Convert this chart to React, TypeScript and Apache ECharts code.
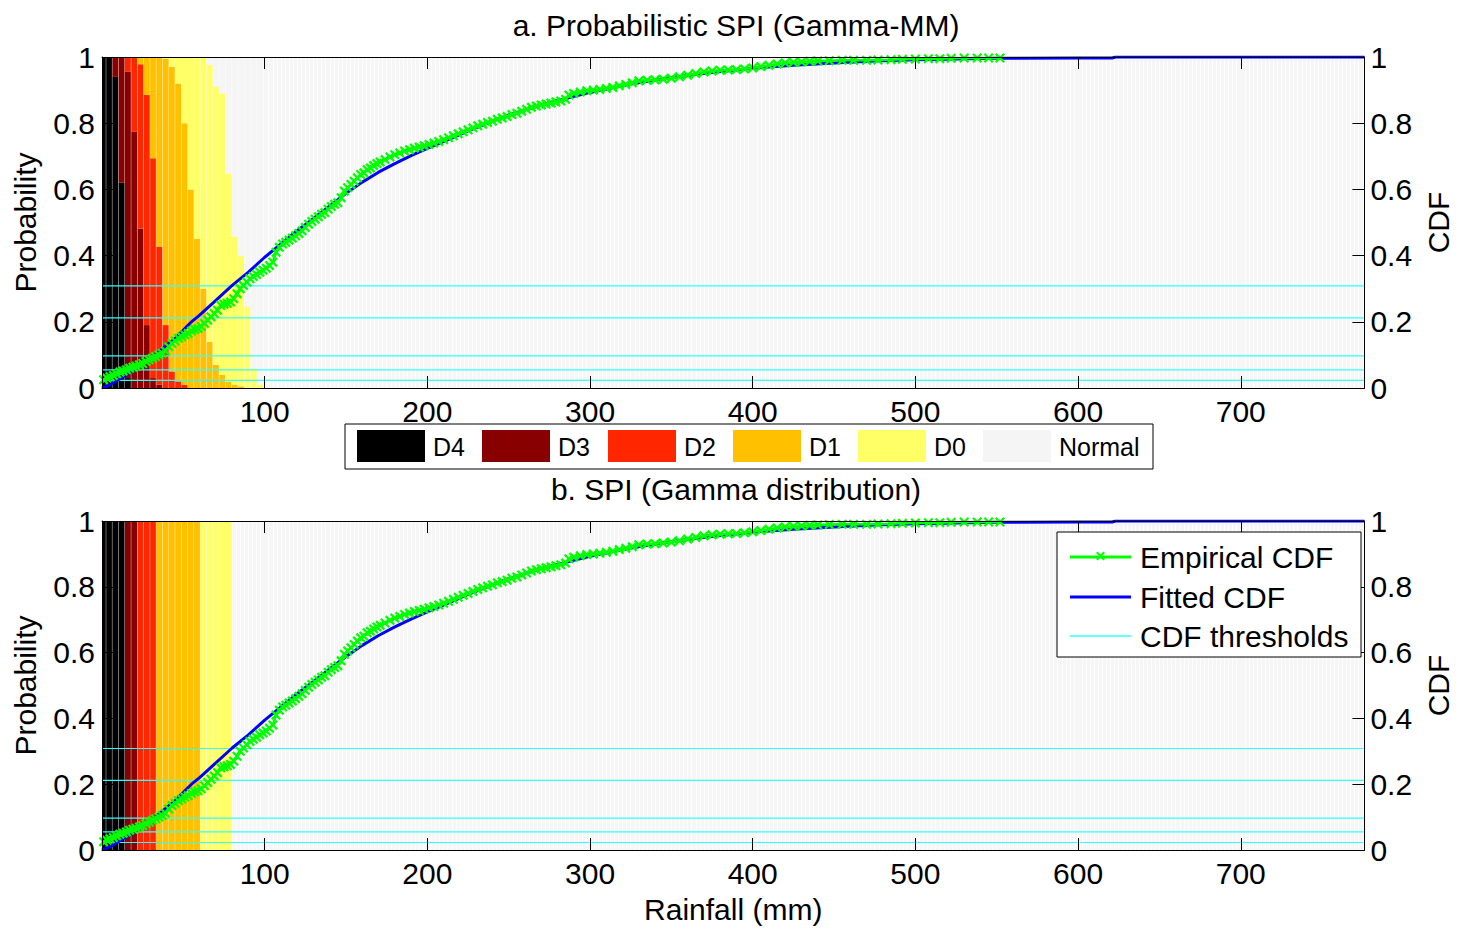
import React, { useEffect, useRef } from "react";
import * as echarts from "echarts";

const FONT = '"Liberation Sans", Arial, Helvetica, sans-serif';

// Drought classes (legend) and their colours
const classNames = ["D4", "D3", "D2", "D1", "D0", "Normal"];
const classColors = ["#000000", "#880000", "#ff2600", "#ffc000", "#ffff66", "#f5f5f5"];

// Rainfall bins (mm) used for the class bars
const binLeft = [0, 2.6, 6.4, 10.2, 14.1, 18.0, 21.9, 25.7, 29.6, 33.4, 37.3, 41.2, 45.0, 48.9, 52.8, 56.6, 60.5, 64.4, 68.2, 72.1, 76.0, 79.8, 83.7, 87.6, 91.4, 95.3];
const binRight = [2.6, 6.4, 10.2, 14.1, 18.0, 21.9, 25.7, 29.6, 33.4, 37.3, 41.2, 45.0, 48.9, 52.8, 56.6, 60.5, 64.4, 68.2, 72.1, 76.0, 79.8, 83.7, 87.6, 91.4, 95.3, 99.2];

// Panel a: class probabilities per bin (probabilistic SPI)
const probD4 = [1, 1, 0.94, 0.62, 0.03, 0, 0, 0, 0, 0, 0, 0, 0, 0, 0, 0, 0, 0, 0, 0, 0, 0, 0, 0, 0, 0];
const probD3 = [0, 0, 0.06, 0.38, 0.925, 0.774, 0.482, 0.19, 0.03, 0.01, 0, 0, 0, 0, 0, 0, 0, 0, 0, 0, 0, 0, 0, 0, 0, 0];
const probD2 = [0, 0, 0, 0, 0.045, 0.226, 0.496, 0.695, 0.664, 0.417, 0.19, 0.05, 0.02, 0.01, 0, 0, 0, 0, 0, 0, 0, 0, 0, 0, 0, 0];
const probD1 = [0, 0, 0, 0, 0, 0, 0.022, 0.115, 0.306, 0.573, 0.805, 0.92, 0.9, 0.79, 0.6, 0.45, 0.3, 0.14, 0.07, 0.04, 0.02, 0.01, 0.005, 0, 0, 0];
const probD0 = [0, 0, 0, 0, 0, 0, 0, 0, 0, 0, 0.005, 0.03, 0.08, 0.2, 0.4, 0.55, 0.7, 0.836, 0.84, 0.85, 0.628, 0.448, 0.395, 0.246, 0.06, 0.01];

// Panel b: deterministic SPI class per bin
const spiClass = ["D4", "D4", "D4", "D4", "D3", "D3", "D2", "D2", "D2", "D1", "D1", "D1", "D1", "D1", "D1", "D1", "D0", "D0", "D0", "D0", "D0"];

// CDF thresholds (USDM SPI -0.5, -0.8, -1.3, -1.6, -2.0)
const cdfThresholds = [0.3085, 0.2119, 0.0968, 0.0548, 0.0228];

// Fitted CDF
const fittedRain = [0, 5, 10, 15, 20, 25, 30, 35, 40, 45, 50, 55, 60, 70, 80, 90, 100, 110, 120, 130, 140, 150, 160, 170, 180, 190, 200, 215, 225, 250, 275, 300, 325, 350, 375, 400, 425, 450, 475, 500, 550, 600, 621, 623, 776];
const fittedCdf = [0, 0.01, 0.025, 0.04, 0.055, 0.072, 0.09, 0.11, 0.13, 0.15, 0.175, 0.2, 0.22, 0.265, 0.31, 0.35, 0.395, 0.435, 0.475, 0.512, 0.55, 0.588, 0.622, 0.652, 0.678, 0.702, 0.724, 0.755, 0.777, 0.825, 0.862, 0.893, 0.918, 0.938, 0.953, 0.966, 0.975, 0.982, 0.988, 0.992, 0.996, 0.997, 0.997, 1.0, 1.0];

// Empirical CDF
const empiricalRain = [1, 3, 5, 7, 9, 11, 13, 15, 17, 19, 21, 23, 25, 27, 29, 31, 33, 35, 37, 39, 41, 43, 45, 47, 49, 51, 53, 55, 57, 59, 61, 63, 65, 67, 69, 71, 73, 75, 77, 79, 81, 83, 85, 87, 89, 91, 93, 95, 97, 99, 101, 103, 105, 107, 109, 111, 113, 115, 117, 119, 121, 123, 125, 127, 129, 131, 133, 135, 137, 139, 141, 143, 145, 147, 149, 151, 153, 155, 157, 159, 161, 163, 165, 167, 169, 171, 174, 177, 180, 183, 186, 189, 192, 195, 198, 201, 204, 207, 210, 213, 216, 219, 222, 225, 228, 231, 234, 237, 240, 243, 246, 249, 252, 255, 258, 261, 264, 267, 270, 273, 276, 279, 282, 285, 287, 290, 294, 298, 302, 306, 310, 314, 318, 322, 326, 330, 335, 340, 345, 350, 355, 360, 365, 370, 375, 380, 385, 390, 395, 400, 405, 410, 415, 420, 425, 430, 435, 440, 447, 455, 462, 470, 477, 485, 492, 500, 508, 515, 522, 530, 538, 545, 552];
const empiricalCdf = [0.025, 0.03, 0.034, 0.038, 0.043, 0.048, 0.051, 0.055, 0.06, 0.063, 0.066, 0.07, 0.074, 0.08, 0.085, 0.09, 0.095, 0.1, 0.105, 0.112, 0.125, 0.135, 0.142, 0.15, 0.155, 0.16, 0.165, 0.172, 0.177, 0.18, 0.186, 0.195, 0.205, 0.215, 0.225, 0.235, 0.25, 0.253, 0.256, 0.26, 0.27, 0.285, 0.3, 0.31, 0.32, 0.33, 0.337, 0.343, 0.35, 0.356, 0.362, 0.37, 0.38, 0.41, 0.425, 0.435, 0.44, 0.447, 0.453, 0.46, 0.467, 0.475, 0.485, 0.495, 0.503, 0.51, 0.517, 0.525, 0.53, 0.54, 0.548, 0.555, 0.56, 0.575, 0.595, 0.605, 0.615, 0.625, 0.635, 0.645, 0.65, 0.66, 0.665, 0.672, 0.678, 0.683, 0.69, 0.698, 0.705, 0.71, 0.716, 0.72, 0.725, 0.728, 0.732, 0.736, 0.74, 0.745, 0.75, 0.756, 0.762, 0.768, 0.774, 0.78, 0.786, 0.792, 0.797, 0.802, 0.806, 0.812, 0.816, 0.82, 0.826, 0.83, 0.836, 0.842, 0.848, 0.852, 0.855, 0.858, 0.861, 0.864, 0.867, 0.872, 0.885, 0.89, 0.894, 0.898, 0.9, 0.902, 0.905, 0.908, 0.913, 0.917, 0.922, 0.928, 0.93, 0.931, 0.933, 0.936, 0.94, 0.945, 0.95, 0.955, 0.958, 0.96, 0.961, 0.962, 0.964, 0.967, 0.971, 0.975, 0.979, 0.982, 0.984, 0.985, 0.987, 0.988, 0.989, 0.99, 0.99, 0.99, 0.991, 0.992, 0.993, 0.994, 0.995, 0.995, 0.996, 0.997, 0.997, 0.997, 0.997];

const X_MAX = 776;
const GRIDS = [
  { left: 102, top: 57, width: 1268, height: 331 },
  { left: 102, top: 521, width: 1268, height: 329 },
];

const xMarker = "path://M0,1.6L1.6,0L5,3.4L8.4,0L10,1.6L6.6,5L10,8.4L8.4,10L5,6.6L1.6,10L0,8.4L3.4,5Z";

function sepLine(api: any, r: number) {
  const t = api.coord([r, 1]);
  const b = api.coord([r, 0]);
  return {
    type: "line",
    shape: { x1: t[0], y1: t[1], x2: b[0], y2: b[1] },
    style: { stroke: "rgba(255,255,255,0.7)", lineWidth: 1 },
  };
}

export default function App() {
  const ref = useRef<HTMLDivElement>(null);
  useEffect(() => {
    document.body.style.margin = "0";
    if (!ref.current) return;
    const chart = echarts.init(ref.current, undefined, { renderer: "svg" });

    const topBins = binLeft.map((l, i) => {
      const ps = [probD4[i], probD3[i], probD2[i], probD1[i], probD0[i]];
      const s = ps.reduce((a, b) => a + b, 0);
      return [l, binRight[i], ...ps, Math.max(0, 1 - s)];
    });
    const bottomBins = spiClass.map((c, i) => [binLeft[i], binRight[i], classNames.indexOf(c)]);

    const txt = { color: "#000", fontSize: 30, fontFamily: FONT };
    const axLine = { show: true, onZero: false, lineStyle: { color: "#000", width: 1 } };
    const axTick = { show: true, inside: true, length: 12, lineStyle: { color: "#000" } };

    const xAxes: any[] = [];
    const yAxes: any[] = [];
    GRIDS.forEach((g, gi) => {
      xAxes.push({
        gridIndex: gi, type: "value", min: 0, max: X_MAX, interval: 100, position: "bottom", z: 10,
        name: gi === 1 ? "Rainfall (mm)" : "", nameLocation: "middle", nameGap: 44, nameTextStyle: txt,
        axisLine: axLine, axisTick: axTick,
        axisLabel: { show: true, showMinLabel: false, showMaxLabel: false, margin: 8, ...txt },
        splitLine: { show: false },
      });
      xAxes.push({
        gridIndex: gi, type: "value", min: 0, max: X_MAX, interval: 100, position: "top", z: 10,
        axisLine: axLine, axisTick: axTick,
        axisLabel: { show: false },
        splitLine: { show: false },
      });
      // background stripes of the "Normal" area (drawn below the bars)
      xAxes.push({
        gridIndex: gi, type: "value", min: 0, max: X_MAX, interval: 100, position: "bottom", z: 0,
        axisLine: { show: false }, axisTick: { show: false }, axisLabel: { show: false },
        splitLine: { show: false },
        minorTick: { show: false, splitNumber: 40 },
        minorSplitLine: { show: true, lineStyle: { color: "#fdfdfd", width: 1 } },
      });
      yAxes.push({
        gridIndex: gi, type: "value", min: 0, max: 1, interval: 0.2, position: "left", z: 10,
        name: "Probability", nameLocation: "middle", nameGap: 62, nameRotate: 90, nameTextStyle: txt,
        axisLine: axLine, axisTick: axTick,
        axisLabel: { margin: 7, ...txt },
        splitLine: { show: false },
      });
      yAxes.push({
        gridIndex: gi, type: "value", min: 0, max: 1, interval: 0.2, position: "right", z: 10,
        name: "CDF", nameLocation: "middle", nameGap: 55, nameRotate: 90, nameTextStyle: txt,
        axisLine: axLine, axisTick: axTick,
        axisLabel: { margin: 6, ...txt },
        splitLine: { show: false },
      });
    });

    const series: any[] = [];
    GRIDS.forEach((_, gi) => {
      const xi = gi * 3;
      const yi = gi * 2;
      if (gi === 0) {
        series.push({
          type: "custom", xAxisIndex: xi, yAxisIndex: yi, z: 1, silent: true, clip: true,
          data: topBins, encode: { x: [0, 1], y: [2] },
          renderItem: (_p: any, api: any) => {
            const l = api.value(0);
            const r = api.value(1);
            let cum = 0;
            const children: any[] = [];
            for (let k = 0; k < 6; k++) {
              const p = api.value(2 + k);
              if (p > 0) {
                const a = api.coord([l, cum + p]);
                const b = api.coord([r, cum]);
                children.push({
                  type: "rect",
                  shape: { x: a[0], y: a[1], width: b[0] - a[0], height: b[1] - a[1] },
                  style: { fill: classColors[k] },
                });
              }
              cum += p;
            }
            children.push(sepLine(api, r));
            return { type: "group", children };
          },
        });
      } else {
        series.push({
          type: "custom", xAxisIndex: xi, yAxisIndex: yi, z: 1, silent: true, clip: true,
          data: bottomBins, encode: { x: [0, 1] },
          renderItem: (_p: any, api: any) => {
            const l = api.value(0);
            const r = api.value(1);
            const c = api.value(2);
            const a = api.coord([l, 1]);
            const b = api.coord([r, 0]);
            return {
              type: "group",
              children: [
                { type: "rect", shape: { x: a[0], y: a[1], width: b[0] - a[0], height: b[1] - a[1] }, style: { fill: classColors[c] } },
                sepLine(api, r),
              ],
            };
          },
        });
      }
      cdfThresholds.forEach((t) => {
        series.push({
          type: "line", xAxisIndex: xi, yAxisIndex: yi, z: 2, silent: true,
          data: [[0, t], [X_MAX, t]], symbol: "none",
          lineStyle: { color: "#33ffff", width: 1.2 },
        });
      });
      series.push({
        type: "line", name: "Fitted CDF", xAxisIndex: xi, yAxisIndex: yi, z: 3, silent: true,
        data: fittedRain.map((x, i) => [x, fittedCdf[i]]), symbol: "none",
        lineStyle: { color: "#0000ff", width: 3 },
      });
      series.push({
        type: "line", name: "Empirical CDF", xAxisIndex: xi, yAxisIndex: yi, z: 4, silent: true,
        data: empiricalRain.map((x, i) => [x, empiricalCdf[i]]),
        symbol: xMarker, symbolSize: 10, showSymbol: true,
        itemStyle: { color: "#00ff00" },
        lineStyle: { color: "#00ff00", width: 2.5 },
      });
    });

    const Z = 100;
    // Legend a (drought classes)
    const swX = [357, 482, 608, 733, 858, 983];
    const legend1: any[] = [
      { type: "rect", z: Z, shape: { x: 345, y: 424, width: 808, height: 45 }, style: { fill: "#fff", stroke: "#000", lineWidth: 1 } },
    ];
    classNames.forEach((n, i) => {
      legend1.push({ type: "rect", z: Z + 1, shape: { x: swX[i], y: 430, width: 68, height: 32 }, style: { fill: classColors[i] } });
      legend1.push({ type: "text", z: Z + 1, x: swX[i] + 76, y: 447, style: { text: n, fill: "#000", font: `25px ${FONT}`, textVerticalAlign: "middle", textAlign: "left" } });
    });

    // Legend b (lines)
    const rowsY = [557, 597, 636];
    const legend2: any[] = [
      { type: "rect", z: Z, shape: { x: 1057, y: 532, width: 304, height: 125 }, style: { fill: "#fff", stroke: "#000", lineWidth: 1 } },
      { type: "line", z: Z + 1, shape: { x1: 1070, y1: rowsY[0], x2: 1131, y2: rowsY[0] }, style: { stroke: "#00ff00", lineWidth: 3 } },
      { type: "polygon", z: Z + 2, shape: { points: [[1096, 553], [1097.5, 551.5], [1100.5, 554.5], [1103.5, 551.5], [1105, 553], [1102, 556], [1105, 559], [1103.5, 560.5], [1100.5, 557.5], [1097.5, 560.5], [1096, 559], [1099, 556]] }, style: { fill: "#00ff00" } },
      { type: "line", z: Z + 1, shape: { x1: 1070, y1: rowsY[1], x2: 1131, y2: rowsY[1] }, style: { stroke: "#0000ff", lineWidth: 3 } },
      { type: "line", z: Z + 1, shape: { x1: 1070, y1: rowsY[2], x2: 1131, y2: rowsY[2] }, style: { stroke: "#33ffff", lineWidth: 1.5 } },
    ];
    ["Empirical CDF", "Fitted CDF", "CDF thresholds"].forEach((t, i) => {
      legend2.push({ type: "text", z: Z + 1, x: 1140, y: rowsY[i], style: { text: t, fill: "#000", font: `30px ${FONT}`, textVerticalAlign: "middle", textAlign: "left" } });
    });

    const titles: any[] = [
      { type: "text", z: Z, x: 736, y: 25, style: { text: "a. Probabilistic SPI (Gamma-MM)", fill: "#000", font: `30px ${FONT}`, textAlign: "center", textVerticalAlign: "middle" } },
      { type: "text", z: Z, x: 736, y: 489, style: { text: "b. SPI (Gamma distribution)", fill: "#000", font: `30px ${FONT}`, textAlign: "center", textVerticalAlign: "middle" } },
    ];

    chart.setOption({
      animation: false,
      backgroundColor: "#ffffff",
      grid: GRIDS.map((g) => ({ ...g, show: true, backgroundColor: "#f6f6f6", borderWidth: 0, containLabel: false })),
      xAxis: xAxes,
      yAxis: yAxes,
      series,
      graphic: [...titles, ...legend1, ...legend2],
    });
    return () => chart.dispose();
  }, []);
  return <div ref={ref} style={{ width: 1461, height: 931, overflow: "hidden" }} />;
}
